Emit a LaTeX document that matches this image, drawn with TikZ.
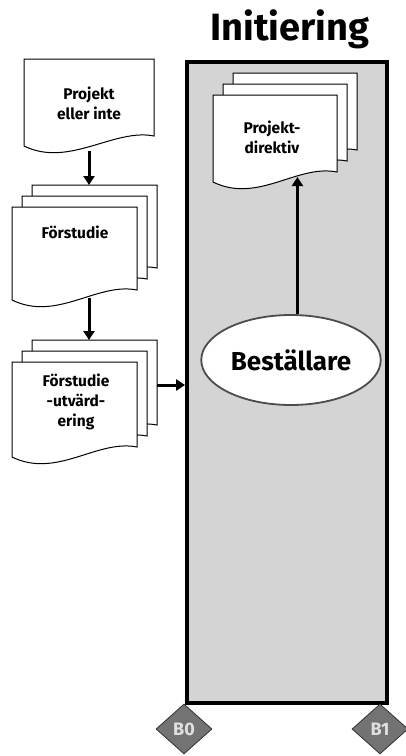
\documentclass[tikz,border=0pt]{standalone}
\usepackage{fontspec}
\setmainfont{Fira Sans}[Ligatures={NoCommon}]
\usetikzlibrary{arrows.meta,shapes.geometric}

\tikzset{
  flow/.style={line width=3pt,-{Triangle[length=9pt,width=11pt]}},
  page/.style={fill=white,line width=1pt},
  doctext/.style={font=\bfseries\fontsize{15.5}{20}\selectfont,align=center},
  gate/.style={diamond,draw=black!80,line width=0.8pt,fill=black!55,minimum width=56pt,minimum height=50pt,inner sep=0pt,
    font=\bfseries\fontsize{18}{18}\selectfont,text=black!12}
}

% one page: left, top, right, bottom (left end)
\newcommand\docpage[4]{%
  \filldraw[page] (#1,#2) -- (#3,#2) -- (#3,#4-10)
    .. controls (#3-40,#4-18) and (#1+45,#4+22) .. (#1,#4) -- cycle;}
% three pages, each one 10 right and 11 up behind the other
\newcommand\docstack[4]{%
  \foreach \s in {2,1,0}{\docpage{#1+10*\s}{#2-11*\s}{#3+10*\s}{#4-11*\s}}}

\begin{document}
\begin{tikzpicture}[x=1pt,y=-1pt]
\useasboundingbox (0,0) rectangle (406,756);
% phase
\node[draw,line width=3.8pt,fill=black!17,minimum width=200pt,minimum height=641pt,inner sep=0pt] (phase) at (287,382.5) {};
\node[font=\bfseries\fontsize{38}{38}\selectfont,anchor=base] (title) at (290,40) {Initiering};
% left column
\docpage{24}{59}{154}{146}
\node[doctext] (pel) at (89,103) {Projekt\\eller inte};
\docstack{12}{207}{137}{300}
\node[doctext] (fs) at (75,232) {Förstudie};
\docstack{12}{362}{137}{457}
\node[doctext] (fsu) at (76,402) {Förstudie\\-utvärd-\\ering};
% inside the phase
\docstack{213}{95}{337}{182}
\node[doctext] (dir) at (272,137) {Projekt-\\direktiv};
\node[ellipse,draw=black!70,line width=1.8pt,fill=white,minimum width=156pt,minimum height=90pt,
  font=\bfseries\fontsize{26}{26}\selectfont] (best) at (291,360) {Beställare};
\coordinate (pel-s) at (89,151);
\coordinate (fs-n) at (89,185);
\coordinate (fs-s) at (89,298);
\coordinate (fsu-n) at (89,340);
\coordinate (fsu-e) at (157,385);
\coordinate (dir-s) at (300,177);
\draw[flow] (pel-s) -- (fs-n);
\draw[flow] (fs-s) -- (fsu-n);
\draw[flow] (fsu-e) -- (fsu-e -| phase.west);
\draw[flow] (best.82) -- (best.82 |- dir-s);
% gates
\node[gate] (b0) at (184,729) {B0};
\node[gate] (b1) at (380,729) {B1};
\end{tikzpicture}
\end{document}
